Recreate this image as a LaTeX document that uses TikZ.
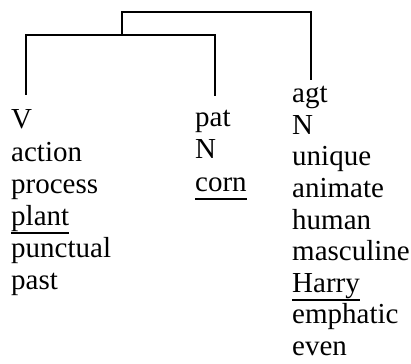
\documentclass[tikz,border=0pt]{standalone}
\usepackage{fontspec}
\setmainfont{Liberation Serif}
\newfontfamily\wordfont{Liberation Serif}
\begin{document}
\begin{tikzpicture}[x=1pt,y=-1pt,
  word/.style={anchor=base west, inner sep=0pt, font=\fontsize{29}{32}\wordfont},
  branch/.style={line width=2pt},
  ul/.style={line width=2pt}]
\useasboundingbox (0,0) rectangle (411,363);

% verb column
\node[word] (V)   at (11,129) {V};
\node[word] (v1)  at (11,161) {action};
\node[word] (v2)  at (11,193) {process};
\node[word] (v3)  at (11,225) {plant};
\node[word] (v4)  at (11,257) {punctual};
\node[word] (v5)  at (11,289) {past};

% patient column
\node[word] (pat) at (195,127) {pat};
\node[word] (p1)  at (195,159) {N};
\node[word] (p2)  at (195,191) {corn};

% agent column
\node[word] (agt) at (292,103) {agt};
\node[word] (a1)  at (292,134.5) {N};
\node[word] (a2)  at (292,166) {unique};
\node[word] (a3)  at (292,197.5) {animate};
\node[word] (a4)  at (292,229) {human};
\node[word] (a5)  at (292,260.5) {masculine};
\node[word] (a6)  at (292,292) {Harry};
\node[word] (a7)  at (292,323.5) {emphatic};
\node[word] (a8)  at (292,355) {even};

% underlined lexical items
\foreach \n in {v3,p2,a6}
  \draw[ul] ([yshift=-7.5pt]\n.base west) -- ([yshift=-7.5pt]\n.base east);

% bracket joints
\coordinate (vtop)  at (26,95);
\coordinate (ptop)  at (215,96);
\coordinate (atop)  at (311,80);
\coordinate (inner) at (122,35);
\coordinate (outer) at (122,12);

% inner bracket joining V and pat
\draw[branch] (vtop) |- (ptop |- inner) -- (ptop);
% outer bracket joining the inner bracket and agt
\draw[branch] (inner) -- (outer) -| (atop);
\end{tikzpicture}
\end{document}
